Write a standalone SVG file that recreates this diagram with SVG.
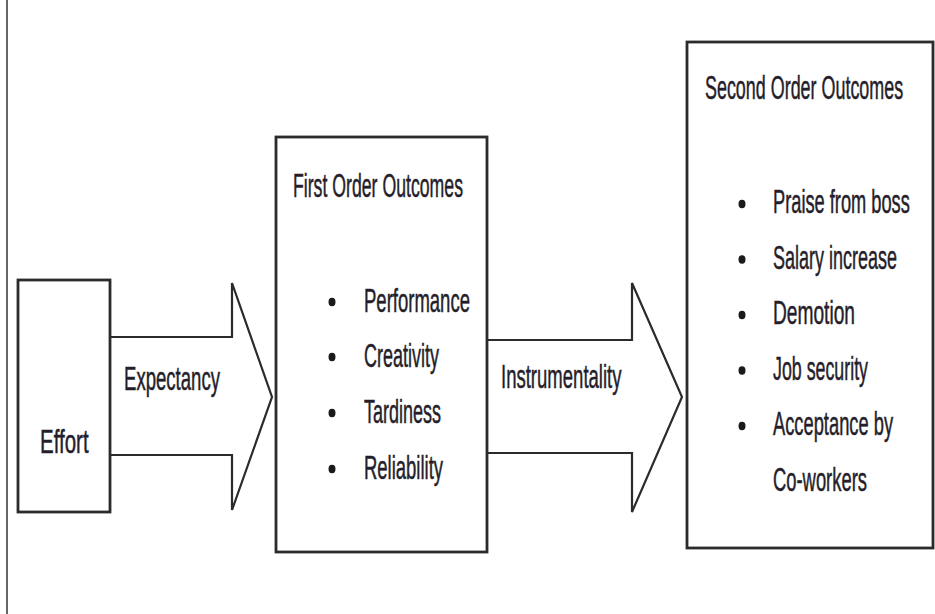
<svg xmlns="http://www.w3.org/2000/svg" width="935" height="614" viewBox="0 0 935 614">
<style>
.box{fill:#fff;stroke:#2b2b2b;stroke-width:2.8}
.arrow{fill:#fff;stroke:#2b2b2b;stroke-width:2.2;stroke-linejoin:miter}
text{font-family:"Liberation Sans",Arial,sans-serif;font-size:33px;fill:#251e2a;stroke:#251e2a;stroke-width:0.5}
.dot{fill:#1a1a1a}
</style>
<rect width="935" height="614" fill="#fff"/>
<line x1="7" y1="0" x2="7" y2="614" stroke="#333" stroke-width="1.5"/>
<g id="connectors">
<g id="arrow-expectancy">
<path class="arrow" d="M110,337 H232 V283 L272,397 L232,510 V455 H110"/>
<text transform="translate(124,390) scale(0.563,1)">Expectancy</text>
</g>
<g id="arrow-instrumentality">
<path class="arrow" d="M487,340 H632 V283 L682,397 L632,512 V453 H487"/>
<text transform="translate(501,388) scale(0.562,1)">Instrumentality</text>
</g>
</g>
<g id="effort">
<rect class="box" x="18" y="280" width="92" height="232"/>
<text transform="translate(40,453) scale(0.621,1)">Effort</text>
</g>
<g id="first-order">
<rect class="box" x="276" y="137" width="211" height="415"/>
<text transform="translate(293,197) scale(0.536,1)">First Order Outcomes</text>
<ellipse class="dot" cx="332" cy="302" rx="3.5" ry="4.2"/>
<ellipse class="dot" cx="332" cy="357" rx="3.5" ry="4.2"/>
<ellipse class="dot" cx="332" cy="413" rx="3.5" ry="4.2"/>
<ellipse class="dot" cx="332" cy="469" rx="3.5" ry="4.2"/>
<text transform="translate(364,312) scale(0.561,1)">Performance</text>
<text transform="translate(364,367) scale(0.545,1)">Creativity</text>
<text transform="translate(364,423) scale(0.545,1)">Tardiness</text>
<text transform="translate(364,479) scale(0.56,1)">Reliability</text>
</g>
<g id="second-order">
<rect class="box" x="687" y="42" width="246" height="506"/>
<text transform="translate(705,99) scale(0.543,1)">Second Order Outcomes</text>
<ellipse class="dot" cx="742" cy="204" rx="3.5" ry="4.2"/>
<ellipse class="dot" cx="742" cy="259.5" rx="3.5" ry="4.2"/>
<ellipse class="dot" cx="742" cy="315" rx="3.5" ry="4.2"/>
<ellipse class="dot" cx="742" cy="370.5" rx="3.5" ry="4.2"/>
<ellipse class="dot" cx="742" cy="426" rx="3.5" ry="4.2"/>
<text transform="translate(773,213) scale(0.553,1)">Praise from boss</text>
<text transform="translate(773,268.5) scale(0.545,1)">Salary increase</text>
<text transform="translate(773,324) scale(0.581,1)">Demotion</text>
<text transform="translate(773,379.5) scale(0.54,1)">Job security</text>
<text transform="translate(773,435) scale(0.555,1)">Acceptance by</text>
<text transform="translate(773,490.5) scale(0.557,1)">Co-workers</text>
</g>
</svg>
